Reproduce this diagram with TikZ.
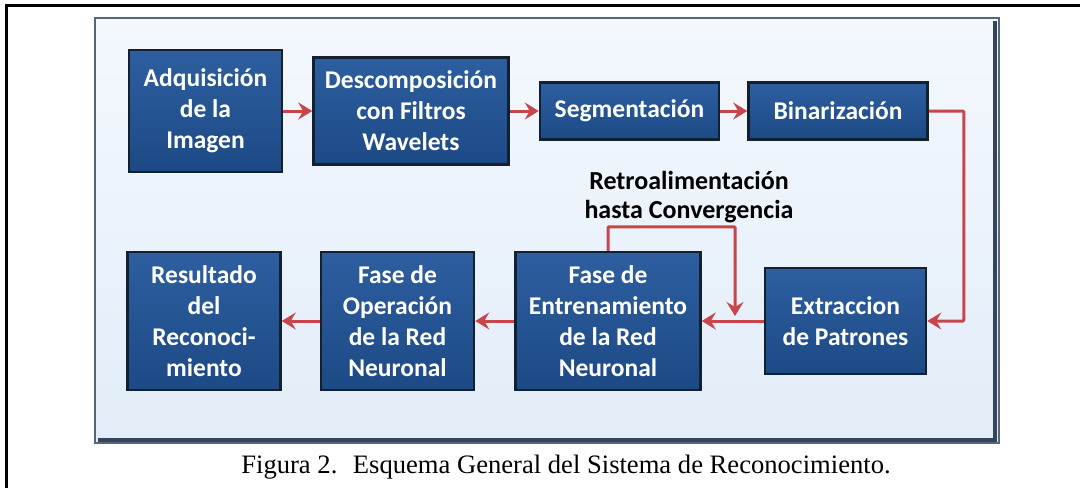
\documentclass[tikz,border=0pt]{standalone}
\usepackage{fontspec}
\setmainfont{Liberation Serif}
\newfontfamily\boxfont{Carlito}
\usetikzlibrary{arrows.meta, positioning}
\definecolor{navyFill}{HTML}{1D4A86}
\definecolor{navyTop}{HTML}{2D5E9F}
\definecolor{navyEdge}{HTML}{13202F}
\definecolor{arrowRed}{HTML}{C8464B}
\definecolor{panelTop}{HTML}{F4F8FD}
\definecolor{panelBot}{HTML}{E2EDF9}
\definecolor{panelEdge}{HTML}{56667C}
\definecolor{panelDark}{HTML}{34445A}
\tikzset{
  arrowR/.style={-{Stealth[length=14pt, width=17pt, inset=5pt]}, arrowRed, line width=3pt},
  boxN/.style={rectangle, draw=navyEdge, line width=2.5pt, top color=navyTop,
               bottom color=navyFill, text=white, align=center, inner sep=0pt,
               font=\boxfont\bfseries\fontsize{25.5}{31}\selectfont},
  lblFb/.style={align=center, text=black, font=\boxfont\bfseries\fontsize{26}{29}\selectfont},
}

\begin{document}
\begin{tikzpicture}[x=1pt, y=-1pt]
    \useasboundingbox (0,0) rectangle (1080,488);
    \fill[white] (0,0) rectangle (1080,488);
    \draw[line width=3pt] (6,488) -- (6,5) -- (1080,5);
    \shade[top color=panelTop, bottom color=panelBot] (95,18) rectangle (999,443);
    \draw[panelEdge, line width=2.5pt] (95,18) rectangle (999,443);
    \draw[panelDark, line width=4pt] (995,21) -- (995,440) -- (98,440);

    \node[boxN, minimum width=153pt, minimum height=122pt] (b1) at (205.5,111)
         {Adquisición\\de la\\Imagen};
    \node[boxN, minimum width=195pt, minimum height=107pt, right=29pt of b1] (b2)
         {Descomposición\\con Filtros\\Wavelets};
    \node[boxN, minimum width=179pt, minimum height=57pt, right=29pt of b2] (b3) {Segmentación};
    \node[boxN, minimum width=179pt, minimum height=57pt, right=27pt of b3] (b4) {Binarización};

    \node[boxN, minimum width=161pt, minimum height=106pt] (b5) at (845.5,321)
         {Extraccion\\de Patrones};
    \node[boxN, minimum width=185pt, minimum height=138pt, left=62pt of b5] (b6)
         {Fase de\\Entrenamiento\\de la Red\\Neuronal};
    \node[boxN, minimum width=153pt, minimum height=138pt, left=39pt of b6] (b7)
         {Fase de\\Operación\\de la Red\\Neuronal};
    \node[boxN, minimum width=153pt, minimum height=138pt, left=38pt of b7] (b8)
         {Resultado\\del\\Reconoci-\\miento};

    \node[lblFb] (fb) at (689,197) {Retroalimentación\\hasta Convergencia};
    \coordinate (fbend) at (735,316);

    \draw[arrowR] (b1) -- (b2);
    \draw[arrowR] (b2) -- (b3);
    \draw[arrowR] (b3) -- (b4);
    \draw[arrowR, rounded corners=1pt] (b4.east) -- ++(35,0) |- (b5.east);
    \draw[arrowR] (b5) -- (b6);
    \draw[arrowR, rounded corners=1pt] (b6.north) -- ++(0,-24) -| (fbend);
    \draw[arrowR] (b6) -- (b7);
    \draw[arrowR] (b7) -- (b8);

    \node[font=\fontsize{26.6}{30}\selectfont] (cap) at (566,467)
         {Figura 2.~ Esquema General del Sistema de Reconocimiento.};
\end{tikzpicture}
\end{document}
